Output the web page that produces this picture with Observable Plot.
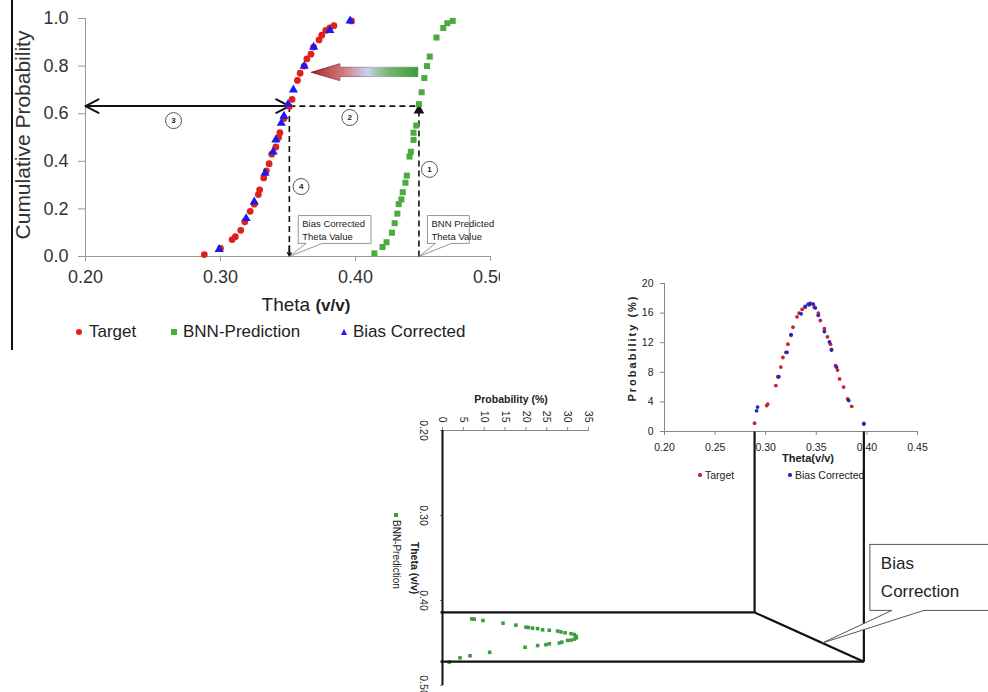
<!DOCTYPE html>
<html>
<head>
<meta charset="utf-8">
<script src="https://cdn.jsdelivr.net/npm/d3@7"></script>
<script src="https://cdn.jsdelivr.net/npm/@observablehq/plot@0.6"></script>
<style>
  html, body { margin: 0; padding: 0; background: #fff; }
  body { width: 988px; height: 692px; overflow: hidden; position: relative;
         font-family: "Liberation Sans", Arial, sans-serif; }
  #root { position: absolute; left: 0; top: 0; width: 988px; height: 692px; }
  svg.plot-like { max-width: none !important; }
</style>
</head>
<body>
<svg width="0" height="0" style="position:absolute">
  <defs>
    <linearGradient id="arrowGrad" x1="0" x2="1" y1="0" y2="0">
      <stop offset="0%" stop-color="#b3262a"/>
      <stop offset="30%" stop-color="#cf7a7d"/>
      <stop offset="52%" stop-color="#c9d2ef"/>
      <stop offset="72%" stop-color="#7ab56c"/>
      <stop offset="100%" stop-color="#3f9a3a"/>
    </linearGradient>
    <linearGradient id="arrowStroke" x1="0" x2="1" y1="0" y2="0">
      <stop offset="0%" stop-color="#7d1216"/>
      <stop offset="40%" stop-color="#b07a80"/>
      <stop offset="60%" stop-color="#a8b4d8"/>
      <stop offset="100%" stop-color="#3f9a3a"/>
    </linearGradient>
  </defs>
</svg>
<div id="root"></div>
<script>
// ---------------- DATA ----------------
// Cumulative distribution chart (top left)
const targetCdfTheta = [0.288,0.300,0.3086,0.311,0.315,0.318,0.322,0.325,0.328,0.329,0.332,0.334,0.336,0.338,0.341,0.343,0.344,0.347,0.351,0.353,0.357,0.359,0.362,0.364,0.367,0.369,0.373,0.375,0.378,0.381,0.384,0.397];
const targetCdfProb  = [0.008,0.034,0.071,0.083,0.11,0.146,0.19,0.22,0.26,0.28,0.33,0.36,0.39,0.43,0.46,0.50,0.52,0.58,0.63,0.66,0.74,0.77,0.80,0.83,0.85,0.88,0.91,0.93,0.95,0.96,0.97,0.99];
const correctedCdfTheta = [0.299,0.319,0.325,0.333,0.339,0.341,0.345,0.347,0.350,0.354,0.362,0.369,0.381,0.396];
const correctedCdfProb  = [0.03,0.16,0.23,0.35,0.44,0.49,0.56,0.59,0.64,0.70,0.80,0.88,0.95,0.99];
const bnnCdfTheta = [0.414,0.420,0.423,0.427,0.429,0.431,0.432,0.434,0.435,0.437,0.438,0.440,0.441,0.443,0.443,0.445,0.447,0.449,0.451,0.453,0.455,0.460,0.465,0.468,0.472];
const bnnCdfProb  = [0.013,0.04,0.06,0.10,0.14,0.18,0.22,0.24,0.27,0.31,0.34,0.42,0.44,0.49,0.52,0.55,0.64,0.69,0.75,0.80,0.84,0.92,0.96,0.98,0.99];
const mainXTicks = [0.20, 0.30, 0.40, 0.50];
const mainYTicks = [0.0, 0.2, 0.4, 0.6, 0.8, 1.0];

// Reading of the quantile mapping (steps 1-4)
const bnnReading = 0.447;
const correctedReading = 0.351;
const readingProb = 0.632;
const stepLabels = ["1", "2", "3", "4"];
const stepTheta  = [0.4548, 0.3958, 0.2652, 0.3597];
const stepProb   = [0.366, 0.584, 0.571, 0.294];
const calloutTexts = ["Bias Corrected\nTheta Value", "BNN Predicted\nTheta Value"];
const calloutTips  = [0.351, 0.447];
const calloutLeft  = [0.3576, 0.4533];
const calloutRight = [0.4115, 0.4843];
const calloutBase1 = [0.3634, 0.4592];
const calloutBase2 = [0.3752, 0.4710];
const calloutBottom = 0.055, calloutTop = 0.172;
// big shift arrow (theta, probability outline)
const shiftArrowTheta = [0.3675,0.3884,0.3884,0.4461,0.4461,0.3884,0.3884,0.3675];
const shiftArrowProb  = [0.774,0.810,0.795,0.795,0.756,0.756,0.739,0.774];

// Probability density chart (top right)
const targetPdfTheta = [0.289,0.301,0.302,0.310,0.312,0.315,0.317,0.320,0.322,0.325,0.327,0.331,0.333,0.336,0.339,0.343,0.348,0.352,0.354,0.358,0.361,0.364,0.365,0.369,0.371,0.373,0.377,0.381,0.385,0.397];
const targetPdfProb  = [1.13,3.5,3.7,6.2,7.4,8.7,10.0,10.7,11.8,13.0,14.1,15.5,16.0,16.5,16.8,17.1,16.8,16.0,15.0,13.9,12.8,11.8,11.1,8.9,8.3,7.1,6.0,4.4,3.4,1.1];
const correctedPdfTheta = [0.291,0.292,0.313,0.321,0.325,0.335,0.339,0.342,0.344,0.347,0.349,0.352,0.358,0.363,0.365,0.370,0.382,0.397];
const correctedPdfProb  = [2.8,3.3,7.4,10.7,13.1,15.9,16.9,17.2,17.3,17.2,16.7,15.7,13.5,12.1,11.0,8.7,4.2,1.0];
const pdfXTicks = [0.20,0.25,0.30,0.35,0.40,0.45];
const pdfYTicks = [0,4,8,12,16,20];

// BNN prediction density chart (bottom, rotated)
const bnnPdfTheta = [0.4216,0.422,0.4235,0.4267,0.429,0.4314,0.4318,0.4325,0.433,0.4345,0.435,0.436,0.437,0.438,0.439,0.440,0.442,0.444,0.4455,0.4466,0.447,0.449,0.450,0.451,0.452,0.453,0.455,0.461,0.465,0.4675,0.4725];
const bnnPdfProb  = [7.0,7.6,9.7,14.5,17.6,20.0,20.6,21.6,22.8,24.0,25.6,27.6,28.4,29.4,30.8,31.6,32.0,32.1,31.6,30.8,30.0,28.6,28.0,25.6,24.8,22.8,19.8,11.3,6.6,4.2,1.6];
const bnnThetaTicks = [0.20,0.30,0.40,0.50];
const bnnProbTicks = [0,5,10,15,20,25,30,35];

// ---------------- HELPERS ----------------
const root = document.getElementById("root");
const FONT = "Liberation Sans, Arial, sans-serif";
const RED = "#e0201c", BLUE = "#1a1af0", GREEN = "#4caa3e";
const zipXY = (xs, ys) => xs.map((x, i) => ({x, y: ys[i]}));

function place(node, left, top, parent = root) {
  const d = document.createElement("div");
  d.style.cssText = `position:absolute;left:${left}px;top:${top}px;`;
  node.classList.add("plot-like");
  d.appendChild(node);
  parent.appendChild(d);
  return d;
}
function label(html, {x, y, size, weight = "normal", rotate = 0, color = "#222", anchor = "center", spacing = 0, parent = root, family = FONT}) {
  const d = document.createElement("div");
  d.innerHTML = html;
  const tx = anchor === "center" ? "-50%" : "0";
  d.style.cssText = `position:absolute;left:${x}px;top:${y}px;font-family:${family};font-size:${size}px;font-weight:${weight};color:${color};white-space:nowrap;letter-spacing:${spacing}px;line-height:1;transform:translate(${tx},-50%) rotate(${rotate}deg);`;
  parent.appendChild(d);
  return d;
}
function marker(shape, color, x, y, size, parent = root) {
  const d = document.createElement("div");
  let css = `position:absolute;left:${x - size / 2}px;top:${y - size / 2}px;width:${size}px;height:${size}px;background:${color};`;
  if (shape === "circle") css += "border-radius:50%;";
  if (shape === "triangle") css = `position:absolute;left:${x - size / 2}px;top:${y - size / 2}px;width:0;height:0;border-left:${size / 2}px solid transparent;border-right:${size / 2}px solid transparent;border-bottom:${size}px solid ${color};`;
  d.style.cssText = css;
  parent.appendChild(d);
}

// ---------------- MAIN CDF CHART ----------------
const calloutPolys = [];
calloutTexts.forEach((t, i) => {
  const pts = [
    [calloutLeft[i], calloutBottom], [calloutLeft[i], calloutTop], [calloutRight[i], calloutTop],
    [calloutRight[i], calloutBottom], [calloutBase2[i], calloutBottom], [calloutTips[i], 0],
    [calloutBase1[i], calloutBottom], [calloutLeft[i], calloutBottom]
  ];
  pts.forEach(([x, y]) => calloutPolys.push({id: i, x, y}));
});
const calloutLabels = calloutTexts.map((text, i) => ({text, x: calloutLeft[i], y: (calloutTop + calloutBottom) / 2}));
const steps = stepLabels.map((s, i) => ({s, x: stepTheta[i], y: stepProb[i]}));
const midLeft = (0.2 + correctedReading) / 2;

const main = Plot.plot({
  width: 500, height: 292,
  marginLeft: 85, marginRight: 10, marginTop: 18, marginBottom: 36,
  style: {fontFamily: FONT, background: "transparent"},
  x: {domain: [0.2, 0.5]},
  y: {domain: [0, 1]},
  marks: [
    Plot.ruleY([0], {stroke: "#999"}),
    Plot.ruleX([0.2], {stroke: "#999"}),
    Plot.axisX({ticks: mainXTicks, tickFormat: ".2f", tickSize: 5, tickPadding: 9, fontSize: 18, stroke: "#999", fill: "#333", label: null}),
    Plot.axisY({ticks: mainYTicks, tickFormat: ".1f", tickSize: 7, tickPadding: 10, fontSize: 18, stroke: "#999", fill: "#333", label: null}),
    // dashed reading lines
    Plot.link([{x1: correctedReading, x2: bnnReading, y1: readingProb, y2: readingProb},
               {x1: correctedReading, x2: correctedReading, y1: readingProb, y2: 0},
               {x1: bnnReading, x2: bnnReading, y1: 0, y2: readingProb}],
      {x1: "x1", x2: "x2", y1: "y1", y2: "y2", stroke: "#111", strokeWidth: 1.6, strokeDasharray: "6,4"}),
    Plot.arrow([{x1: correctedReading, y1: 0.045, x2: correctedReading, y2: 0.003}],
      {x1: "x1", y1: "y1", x2: "x2", y2: "y2", stroke: "#111", strokeWidth: 1.5, headLength: 9}),
    Plot.dot([{x: bnnReading, y: readingProb - 0.018}], {x: "x", y: "y", symbol: "triangle", r: 4, fill: "#111"}),
    // solid double arrow (step 3)
    Plot.arrow([{x1: midLeft, x2: 0.2}, {x1: midLeft, x2: correctedReading}],
      {x1: "x1", x2: "x2", y1: () => readingProb, y2: () => readingProb, stroke: "#111", strokeWidth: 2, headLength: 11, headAngle: 55}),
    // callouts
    Plot.line(calloutPolys, {x: "x", y: "y", z: "id", fill: "white", stroke: "#8a8a8a", strokeWidth: 0.9}),
    Plot.text(calloutLabels, {x: "x", y: "y", text: "text", textAnchor: "start", dx: 4, fontSize: 9.5, lineHeight: 1.4, fill: "#222"}),
    // step numbers
    Plot.dot(steps, {x: "x", y: "y", r: 8, fill: "white", stroke: "#555", strokeWidth: 1}),
    Plot.text(steps, {x: "x", y: "y", text: "s", fontSize: 8, fontWeight: "bold", fill: "#222"}),
    // data
    Plot.dot(zipXY(bnnCdfTheta, bnnCdfProb), {x: "x", y: "y", symbol: "square", r: 3.4, fill: GREEN}),
    Plot.dot(zipXY(targetCdfTheta, targetCdfProb), {x: "x", y: "y", symbol: "circle", r: 3.4, fill: RED}),
    Plot.dot(zipXY(correctedCdfTheta, correctedCdfProb), {x: "x", y: "y", symbol: "triangle", r: 3.4, fill: BLUE}),
    // shift arrow
    Plot.line(zipXY(shiftArrowTheta, shiftArrowProb), {x: "x", y: "y", fill: "url(#arrowGrad)", stroke: "url(#arrowStroke)", strokeWidth: 1})
  ]
});
place(main, 0, 0);

// left border line
const border = document.createElement("div");
border.style.cssText = "position:absolute;left:11px;top:0;width:1.5px;height:350px;background:#111;";
root.appendChild(border);

label("Cumulative Probability", {x: 22, y: 135, size: 21, rotate: -90, color: "#333"});
label('Theta <b style="font-size:17px">(v/v)</b>', {x: 306, y: 304, size: 19, color: "#222"});
marker("circle", RED, 79, 332, 6);
label("Target", {x: 89, y: 331, size: 17, anchor: "start"});
marker("square", GREEN, 174, 332, 6);
label("BNN-Prediction", {x: 183, y: 331, size: 17, anchor: "start"});
marker("triangle", BLUE, 344, 332, 6);
label("Bias Corrected", {x: 353, y: 331, size: 17, anchor: "start"});

// ---------------- PDF CHART (top right) ----------------
const P2 = {left: 620, top: 270};
const pdf = Plot.plot({
  width: 320, height: 200,
  marginLeft: 44, marginRight: 23, marginTop: 13, marginBottom: 39,
  style: {fontFamily: FONT, background: "transparent"},
  x: {domain: [0.2, 0.45]},
  y: {domain: [0, 20]},
  marks: [
    Plot.ruleY([0], {stroke: "#888"}),
    Plot.ruleX([0.2], {stroke: "#888"}),
    Plot.axisX({ticks: pdfXTicks, tickFormat: ".2f", tickSize: 4, tickPadding: 8, fontSize: 10.5, stroke: "#888", fill: "#222", label: null}),
    Plot.axisY({ticks: pdfYTicks, tickSize: 4, tickPadding: 7, fontSize: 10.5, stroke: "#888", fill: "#222", label: null}),
    Plot.dot(zipXY(targetPdfTheta, targetPdfProb), {x: "x", y: "y", r: 1.9, fill: "#c8242a"}),
    Plot.dot(zipXY(correctedPdfTheta, correctedPdfProb), {x: "x", y: "y", r: 1.9, fill: "#2424c8"})
  ]
});
place(pdf, P2.left, P2.top);
label("Probability (%)", {x: 632, y: 348, size: 11, weight: "bold", rotate: -90, spacing: 2, color: "#222"});
label("Theta(v/v)", {x: 808, y: 458, size: 11, weight: "bold", color: "#222"});
marker("circle", "#c8242a", 700, 475, 3.5);
label("Target", {x: 705, y: 475, size: 10.5, anchor: "start"});
marker("circle", "#2424c8", 790, 475, 3.5);
label("Bias Corrected", {x: 795, y: 475, size: 10.5, anchor: "start"});

// ---------------- BNN PDF CHART (rotated 90° clockwise) ----------------
const P3 = {left: 363, top: 390, W: 305, Hc: 236};
const rot = Plot.plot({
  width: 305, height: 186,
  marginLeft: 40, marginRight: 10, marginTop: 10, marginBottom: 30,
  style: {fontFamily: FONT, background: "transparent"},
  x: {domain: [0.2, 0.5]},
  y: {domain: [0, 35]},
  marks: [
    Plot.ruleX([0.2], {stroke: "#888"}),
    Plot.axisX({ticks: bnnThetaTicks, tickFormat: ".2f", tickSize: 3, tickPadding: 12, fontSize: 10.5, stroke: "#888", fill: "#222", label: null}),
    Plot.axisY({ticks: bnnProbTicks, tickSize: 3, tickPadding: 5, fontSize: 10.5, stroke: "#888", fill: "#222", label: null}),
    Plot.ruleY([0], {stroke: "#111", strokeWidth: 2}),
    Plot.dot(zipXY(bnnPdfTheta, bnnPdfProb), {x: "x", y: "y", symbol: "square", r: 2, fill: "#3c9c3c"})
  ]
});
const rotBox = document.createElement("div");
rotBox.style.cssText = `position:absolute;left:${P3.left}px;top:${P3.top}px;width:${P3.W}px;height:${P3.Hc}px;transform-origin:0 0;transform:translate(${P3.Hc}px,0) rotate(90deg);`;
root.appendChild(rotBox);
place(rot, 0, 0, rotBox);
label("Probability (%)", {x: 9, y: 88, size: 10.5, weight: "bold", rotate: -90, parent: rotBox});
label("Theta (v/v)", {x: 178, y: 184, size: 10.5, weight: "bold", parent: rotBox});
marker("square", "#3c9c3c", 125, 203, 3.5, rotBox);
label("BNN-Prediction", {x: 130, y: 203, size: 10, anchor: "start", parent: rotBox});

// ---------------- CONNECTOR OVERLAY ----------------
const s2x = pdf.scale("x"), s2y = pdf.scale("y");
const s3x = rot.scale("x"), s3y = rot.scale("y");
const [tLo, tHi] = d3.extent(targetPdfTheta);
const [bLo, bHi] = d3.extent(bnnCdfTheta);
const xLo = P2.left + s2x.apply(tLo);
const xHi = P2.left + s2x.apply(tHi);
const yAx2 = P2.top + s2y.apply(0);
const yLo = P3.top + s3x.apply(bLo);
const yHi = P3.top + s3x.apply(bHi);
const xAx3 = P3.left + P3.Hc - s3y.apply(0);

const connectors = [
  {x1: xLo, y1: yAx2, x2: xLo, y2: yLo},
  {x1: xHi, y1: yAx2, x2: xHi, y2: yHi},
  {x1: xAx3 - 3, y1: yLo, x2: xLo, y2: yLo},
  {x1: xAx3 - 3, y1: yHi, x2: xHi, y2: yHi},
  {x1: xLo, y1: yLo, x2: xHi, y2: yHi}
];
const bx0 = xHi + 6, bx1 = 996, by0 = yLo - 68, by1 = yLo - 2;
const tipT = 0.62;
const tip = {x: xLo + tipT * (xHi - xLo), y: yLo + tipT * (yHi - yLo)};
const bcPoly = [
  {x: bx0, y: by0}, {x: bx1, y: by0}, {x: bx1, y: by1}, {x: bx0 + 54, y: by1},
  tip, {x: bx0 + 22, y: by1}, {x: bx0, y: by1}, {x: bx0, y: by0}
];
const bcText = [{t: "Bias", x: bx0 + 11, y: by0 + 19}, {t: "Correction", x: bx0 + 11, y: by0 + 47}];

const overlay = Plot.plot({
  width: 988, height: 692, margin: 0,
  style: {fontFamily: FONT, background: "transparent", pointerEvents: "none"},
  x: {type: "identity", axis: null},
  y: {type: "identity", axis: null},
  marks: [
    Plot.link(connectors, {x1: "x1", y1: "y1", x2: "x2", y2: "y2", stroke: "#111", strokeWidth: 2.2}),
    Plot.line(bcPoly, {x: "x", y: "y", fill: "white", stroke: "#555", strokeWidth: 1}),
    Plot.text(bcText, {x: "x", y: "y", text: "t", textAnchor: "start", fontSize: 17, fill: "#222"})
  ]
});
place(overlay, 0, 0);
</script>
</body>
</html>
